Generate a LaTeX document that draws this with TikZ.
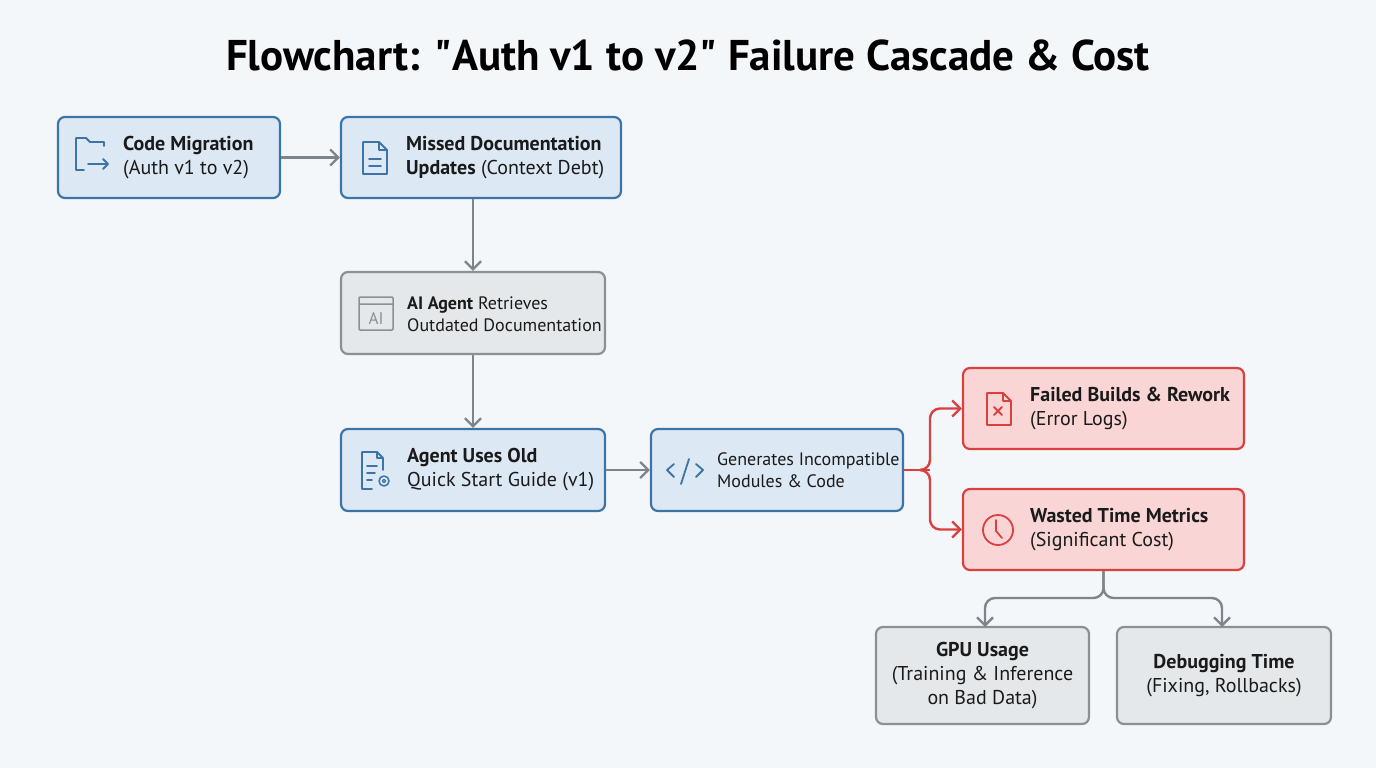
\documentclass[tikz,border=0pt]{standalone}
\usepackage{fontspec}
\setmainfont{PT Sans}
\usetikzlibrary{arrows.meta}
\definecolor{bg}{HTML}{F3F7FA}
\definecolor{bfill}{HTML}{DCE8F4}
\definecolor{bdraw}{HTML}{3D74A8}
\definecolor{gfill}{HTML}{E5E8EA}
\definecolor{gdraw}{HTML}{8A9096}
\definecolor{rfill}{HTML}{F9D5D5}
\definecolor{rdraw}{HTML}{D9403F}
\definecolor{arr}{HTML}{7D858C}
\definecolor{txt}{HTML}{1A1A1A}
\begin{document}
\begin{tikzpicture}[x=1pt,y=-1pt,
 box/.style={draw, rounded corners=7pt, line width=2.2pt},
 bbox/.style={box, fill=bfill, draw=bdraw},
 gbox/.style={box, fill=gfill, draw=gdraw},
 rbox/.style={box, fill=rfill, draw=rdraw},
 lbl/.style={anchor=west, align=left, font=\fontsize{20}{24}\selectfont, text=txt, inner sep=0},
 clbl/.style={align=center, font=\fontsize{20}{24}\selectfont, text=txt, inner sep=0},
 con/.style={draw=arr, line width=2.4pt, -{Straight Barb[length=8pt,width=16pt]}},
 rcon/.style={draw=rdraw, line width=2.4pt, -{Straight Barb[length=8pt,width=16pt]}},
 ic/.style={line width=1.8pt, line cap=round, line join=round}]
\fill[bg] (0,0) rectangle (1376,768);
\useasboundingbox (0,0) rectangle (1376,768);
\node[font=\fontsize{43}{50}\selectfont\bfseries, text=black] (title) at (688,55) {Flowchart: \textquotedbl Auth v1 to v2\textquotedbl\ Failure Cascade \& Cost};

\node[bbox, minimum width=222pt, minimum height=81pt] (A) at (169,157.5) {};
\node[bbox, minimum width=280pt, minimum height=81pt] (B) at (481,157.5) {};
\node[gbox, minimum width=264pt, minimum height=82pt] (C) at (473,313) {};
\node[bbox, minimum width=264pt, minimum height=82pt] (D) at (473,470) {};
\node[bbox, minimum width=252pt, minimum height=82pt] (E) at (777,470) {};
\node[rbox, minimum width=281pt, minimum height=81pt] (F) at (1103.5,408.5) {};
\node[rbox, minimum width=281pt, minimum height=81pt] (G) at (1103.5,529.5) {};
\node[gbox, minimum width=213pt, minimum height=97pt] (H) at (982.5,675.5) {};
\node[gbox, minimum width=214pt, minimum height=97pt] (I) at (1224,675.5) {};

\node[lbl] (tA) at (123,158) {\textbf{Code Migration}\\(Auth v1 to v2)};
\node[lbl] (tB) at (406,158) {\textbf{Missed Documentation}\\\textbf{Updates} (Context Debt)};
\node[lbl, font=\fontsize{18}{22}\selectfont] (tC) at (407,314) {\textbf{AI Agent} Retrieves\\Outdated Documentation};
\node[lbl] (tD) at (407,470) {\textbf{Agent Uses Old}\\Quick Start Guide (v1)};
\node[lbl, font=\fontsize{18}{22}\selectfont] (tE) at (717,470) {Generates Incompatible\\Modules \& Code};
\node[lbl] (tF) at (1030,409) {\textbf{Failed Builds \& Rework}\\(Error Logs)};
\node[lbl] (tG) at (1030,530) {\textbf{Wasted Time Metrics}\\(Significant Cost)};
\node[clbl] (tH) at (982.5,676) {\textbf{GPU Usage}\\(Training \& Inference\\on Bad Data)};
\node[clbl] (tI) at (1224,676) {\textbf{Debugging Time}\\(Fixing, Rollbacks)};

% icons
\draw[ic, bdraw] (104,146) -- (104,142) -- (90,142) -- (86,138) -- (76,138) -- (76,170) -- (84,170);
\draw[ic, bdraw] (88,164) -- (108,164) (103,159) -- (108,164) -- (103,169);
\draw[ic, bdraw] (363,142) -- (379,142) -- (387,150) -- (387,174) -- (363,174) -- cycle (379,142) -- (379,150) -- (387,150);
\draw[ic, bdraw] (369,159) -- (381,159) (369,166) -- (381,166);
\draw[ic, gdraw, line width=1.5pt, rounded corners=1pt] (359,297) rectangle (393,330) (359,304) -- (393,304);
\node[text=gdraw, font=\fontsize{17}{17}\selectfont, inner sep=0] (aiI) at (376,318) {AI};
\draw[ic, bdraw] (383,470) -- (383,458) -- (377,452) -- (362,452) -- (362,489) -- (372,489) (377,452) -- (377,458) -- (383,458);
\draw[ic, bdraw] (367,466) -- (377,466) (367,473) -- (375,473) (367,480) -- (372,480);
\draw[ic, bdraw, line width=1.5pt] (384,481) circle (5pt);
\draw[ic, bdraw, line width=1.2pt] (384,481) circle (1.8pt);
\draw[ic, bdraw] (674,464) -- (667,470) -- (674,477) (696,464) -- (703,470) -- (696,477) (689,459) -- (681,484);
\draw[ic, rdraw] (987,393) -- (1003,393) -- (1011,401) -- (1011,425) -- (987,425) -- cycle (1003,393) -- (1003,401) -- (1011,401);
\draw[ic, rdraw] (994,407) -- (1002,415) (1002,407) -- (994,415);
\draw[ic, rdraw] (998,530) circle (15pt);
\draw[ic, rdraw] (996,520) -- (996,531) -- (1002,538);

% connectors
\draw[con] (A) -- (B);
\draw[con] (C.north |- B.south) -- (C.north);
\draw[con] (C) -- (D);
\draw[con] (D) -- (E);
\coordinate (j1) at (930,470);
\draw[draw=rdraw, line width=2.4pt] (E.east) -- (j1);
\draw[rcon, rounded corners=10pt] (922,470) -- (930,470) -- (930,408.5) -- (F.west);
\draw[rcon, rounded corners=10pt] (922,470) -- (930,470) -- (930,529.5) -- (G.west);
\coordinate (j2) at (1103.5,598);
\draw[con, rounded corners=10pt] (G.south) -- (j2) -- (985,598) -- (985,627);
\draw[con, rounded corners=10pt] (G.south) -- (j2) -- (1222,598) -- (1222,627);
\end{tikzpicture}
\end{document}
